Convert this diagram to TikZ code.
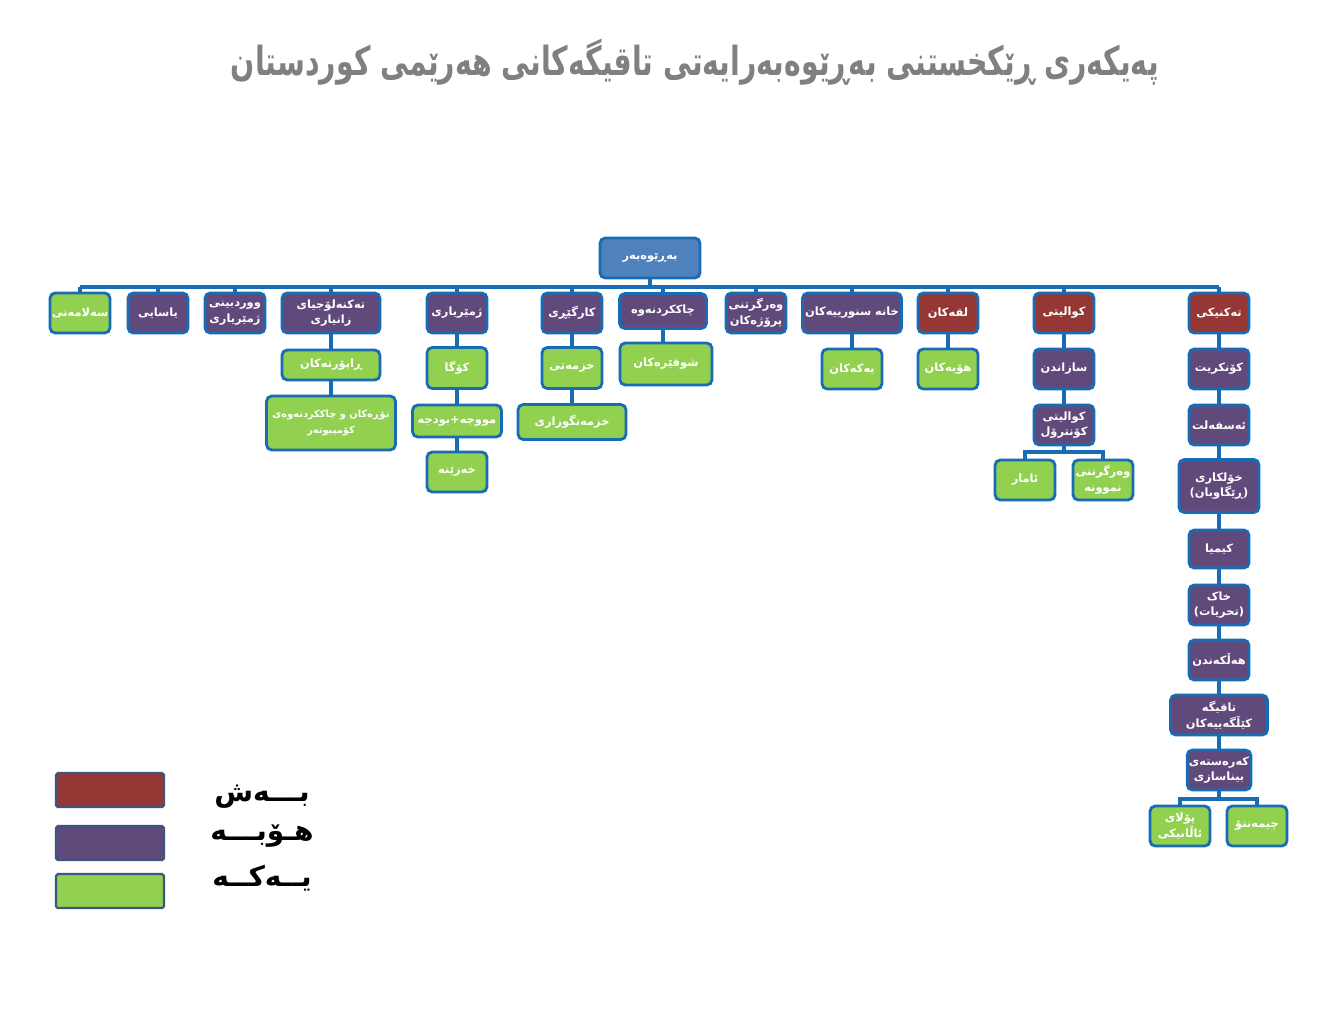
\documentclass[tikz,border=0pt]{standalone}
\usepackage{fontspec}
\newfontfamily\kurd[Script=Arabic]{DejaVu Sans}
\TeXXeTstate=1
\definecolor{kbred}{RGB}{149,55,53}
\definecolor{kbpurple}{RGB}{96,74,123}
\definecolor{kbgreen}{RGB}{146,208,80}
\definecolor{kbblue}{RGB}{79,129,189}
\definecolor{kbline}{RGB}{23,108,181}
\definecolor{kbgray}{RGB}{128,128,128}
\definecolor{kbedge}{RGB}{59,86,128}
\newcommand{\kt}[1]{{\kurd\beginR #1\endR}}
\tikzset{
  box/.style={draw=kbline, line width=1.6pt, rounded corners=3pt, inner sep=1pt,
    text=white, font=\kurd\bfseries\fontsize{6.5}{9}\selectfont, align=center},
  bash/.style={box, fill=kbred},
  hobe/.style={box, fill=kbpurple},
  yeke/.style={box, fill=kbgreen},
  sz/.style 2 args={minimum width=#1*0.02cm, minimum height=#2*0.02cm},
  link/.style={draw=kbline, line width=2.2pt},
  legbox/.style={draw=kbedge, line width=1.2pt, rounded corners=1pt, minimum width=108*0.02cm, minimum height=34*0.02cm},
  legtext/.style={font=\kurd\bfseries\fontsize{16}{18}\selectfont, text=black},
}
\begin{document}
\begin{tikzpicture}[x=0.02cm, y=-0.02cm]
\fill[white] (0,0) rectangle (1344,1008);
\useasboundingbox (0,0) rectangle (1344,1008);

% Title
\node[font=\kurd\bfseries\fontsize{19}{23}\selectfont, text=kbgray] (title) at (695,62) {\scalebox{0.85}[1.2]{\kt{پەیکەری ڕێکخستنی بەڕێوەبەرایەتی تاقیگەکانی هەرێمی کوردستان}}};

% Director
\node[box, fill=kbblue, sz={100}{40}] (boss) at (650,258) {\kt{بەڕێوەبەر}};
\coordinate (bus) at (650,287);

% First row
\node[yeke, sz={60}{40}] (salamati) at (80,313) {\kt{سەلامەتی}};
\node[hobe, sz={60}{40}] (yasayi) at (158,313) {\kt{یاسایی}};
\node[hobe, sz={60}{40}] (wrdbini) at (235,313) {\kt{ووردبینی}\\\kt{ژمێریاری}};
\node[hobe, sz={98}{40}] (it) at (331,313) {\kt{تەکنەلۆجیای}\\\kt{زانیاری}};
\node[hobe, sz={60}{40}] (zhmer) at (457,313) {\kt{ژمێریاری}};
\node[hobe, sz={60}{40}] (karg) at (572,313) {\kt{کارگێڕی}};
\node[hobe, sz={87}{35}] (chakk) at (663,311) {\kt{چاککردنەوە}};
\node[hobe, sz={60}{40}] (projekt) at (756,313) {\kt{وەرگرتنی}\\\kt{پرۆژەکان}};
\node[hobe, sz={99}{40}] (snur) at (852,313) {\kt{خانە سنورییەکان}};
\node[bash, sz={60}{40}] (lqakan) at (948,313) {\kt{لقەکان}};
\node[bash, sz={60}{40}] (kwaliti) at (1064,313) {\kt{کوالیتی}};
\node[bash, sz={60}{40}] (takniki) at (1219,313) {\kt{تەکنیکی}};

\draw[link] (boss.south) -- (bus);
\draw[link] (salamati.north |- bus) -- (takniki.north |- bus);
\foreach \b in {salamati,yasayi,wrdbini,it,zhmer,karg,chakk,projekt,snur,lqakan,kwaliti,takniki}
  \draw[link] (\b.north) -- (\b.north |- bus);

% Information technology
\node[yeke, sz={98}{30}] (raport) at (331,365) {\kt{ڕاپۆرتەکان}};
\node[yeke, sz={129}{54}, font=\kurd\bfseries\fontsize{5.6}{9}\selectfont] (tor) at (331,423) {\kt{تۆڕەکان و چاککردنەوەی}\\\kt{کۆمپیوتەر}};
\draw[link] (it) -- (raport);
\draw[link] (raport) -- (tor);

% Accounting
\node[yeke, sz={60}{41}] (koga) at (457,368) {\kt{کۆگا}};
\node[yeke, sz={89}{32}] (mucha) at (457,421) {\kt{مووچە+بودجە}};
\node[yeke, sz={60}{40}] (khazena) at (457,472) {\kt{خەزێنە}};
\draw[link] (zhmer) -- (koga);
\draw[link] (koga) -- (mucha);
\draw[link] (mucha) -- (khazena);

% Administration
\node[yeke, sz={60}{41}] (khzmati) at (572,368) {\kt{خزمەتی}};
\node[yeke, sz={108}{35}] (gwzari) at (572,422) {\kt{خزمەتگوزاری}};
\draw[link] (karg) -- (khzmati);
\draw[link] (khzmati) -- (gwzari);

% Maintenance
\node[yeke, sz={92}{42}] (shofer) at (666,364) {\kt{شوفێرەکان}};
\draw[link] (chakk.south) -- (chakk.south |- shofer.north);

% Border posts and branches
\node[yeke, sz={60}{40}] (yakakan) at (852,369) {\kt{یەکەکان}};
\node[yeke, sz={60}{40}] (hobakan) at (948,369) {\kt{هۆبەکان}};
\draw[link] (snur) -- (yakakan);
\draw[link] (lqakan) -- (hobakan);

% Quality
\node[hobe, sz={60}{40}] (sazandn) at (1064,369) {\kt{سازاندن}};
\node[hobe, sz={60}{40}] (kontrol) at (1064,425) {\kt{کوالیتی}\\\kt{کۆنترۆل}};
\node[yeke, sz={60}{40}] (amar) at (1025,480) {\kt{ئامار}};
\node[yeke, sz={60}{40}] (namuna) at (1103,480) {\kt{وەرگرتنی}\\\kt{نموونە}};
\coordinate (qsplit) at (1064,452);
\draw[link] (kwaliti) -- (sazandn);
\draw[link] (sazandn) -- (kontrol);
\draw[link] (kontrol.south) -- (qsplit);
\draw[link] (amar.north) |- (qsplit) -| (namuna.north);

% Technical
\node[hobe, sz={60}{40}] (konkrit) at (1219,369) {\kt{کۆنکریت}};
\node[hobe, sz={60}{40}] (asfalt) at (1219,425) {\kt{ئەسفەلت}};
\node[hobe, sz={80}{53}] (kholkari) at (1219,486) {\kt{خۆلکاری}\\\kt{(ڕێگاوبان)}};
\node[hobe, sz={60}{38}] (kimya) at (1219,549) {\kt{کیمیا}};
\node[hobe, sz={60}{40}] (khak) at (1219,605) {\kt{خاک}\\\kt{(تحریات)}};
\node[hobe, sz={60}{40}] (halkandn) at (1219,660) {\kt{هەڵکەندن}};
\node[hobe, sz={97}{40}] (kilga) at (1219,715) {\kt{تاقیگە}\\\kt{کێڵگەییەکان}};
\node[hobe, sz={60}{40}] (karasta) at (1219,770) {\kt{کەرەستەی}\\\kt{بیناسازی}};
\node[yeke, sz={60}{40}] (polay) at (1180,826) {\kt{پۆلای}\\\kt{ئاڵانیکی}};
\node[yeke, sz={60}{40}] (chimento) at (1257,826) {\kt{چیمەنتۆ}};
\coordinate (tsplit) at (1219,799);
\draw[link] (takniki) -- (konkrit);
\draw[link] (konkrit) -- (asfalt);
\draw[link] (asfalt) -- (kholkari);
\draw[link] (kholkari) -- (kimya);
\draw[link] (kimya) -- (khak);
\draw[link] (khak) -- (halkandn);
\draw[link] (halkandn) -- (kilga);
\draw[link] (kilga) -- (karasta);
\draw[link] (karasta.south) -- (tsplit);
\draw[link] (polay.north) |- (tsplit) -| (chimento.north);

% Legend
\node[legbox, fill=kbred] (legbash) at (110,790) {};
\node[legbox, fill=kbpurple] (leghobe) at (110,843) {};
\node[legbox, fill=kbgreen] (legyeke) at (110,891) {};
\node[legtext] (tbash) at (262,797) {\kt{بـــەش}};
\node[legtext] (thobe) at (262,836) {\kt{هـۆبـــە}};
\node[legtext] (tyeke) at (262,878) {\kt{یــەکــە}};
\end{tikzpicture}
\end{document}
